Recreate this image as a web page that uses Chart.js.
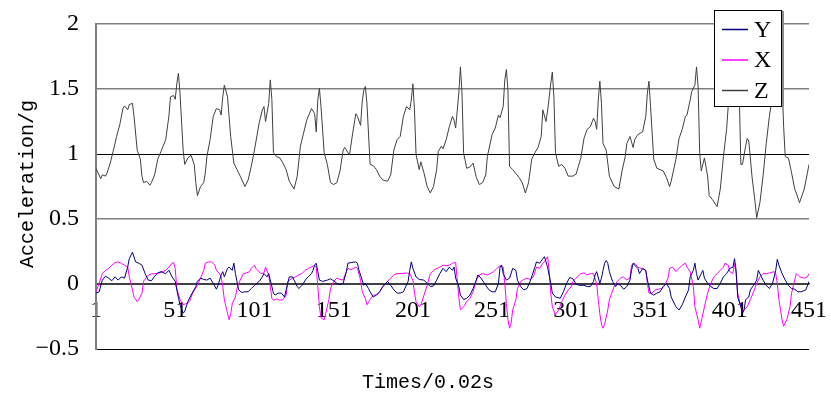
<!DOCTYPE html>
<html><head><meta charset="utf-8">
<script src="https://cdn.jsdelivr.net/npm/chart.js@4/dist/chart.umd.min.js"></script>
<style>html,body{margin:0;padding:0;background:#fff}#wrap{width:831px;height:396px}</style>
</head><body><div id="wrap"><canvas id="c" width="831" height="396"></canvas></div>
<script>
const timeTicks = [1, 51, 101, 151, 201, 251, 301, 351, 401, 451];
const accelTicks = [-0.5, 0, 0.5, 1, 1.5, 2];
const seriesNames = ['Y', 'X', 'Z'];
const xTitle = 'Times/0.02s';
const yTitle = 'Acceleration/g';

// Series Y (navy)
const yT = [1,3,5,7,9,11,13,15,17,19,21,22,24,26,28,30,32,34,36,38,40,42,45,47,49,51,52,54,56,57,59,61,64,65,67,69,71,73,75,77,78,80,81,82,84,85,87,88,89,91,93,95,97,99,101,104,106,107,109,110,111,113,114,116,118,120,121,123,125,126,128,129,131,134,135,137,138,139,140,141,142,144,147,149,151,153,155,157,159,160,162,165,166,167,169,170,171,173,174,176,178,180,182,185,187,189,191,193,195,198,199,200,201,203,205,208,210,212,214,216,218,220,222,224,226,227,228,230,231,233,235,237,239,241,242,244,247,249,251,253,255,256,257,258,260,262,264,266,267,269,271,273,275,278,279,281,283,284,286,288,289,291,294,296,298,300,302,304,306,309,311,313,315,316,317,319,320,321,322,323,324,325,327,329,330,332,334,336,338,339,340,341,343,344,346,348,349,351,353,355,357,359,361,363,364,367,369,371,373,375,376,378,379,380,381,383,384,385,387,389,391,393,395,397,399,401,403,404,405,406,408,409,410,411,413,414,416,418,419,421,422,424,426,428,430,431,432,434,436,438,440,442,444,446,449,451];
const yV = [-0.07,-0.06,0.03,0.06,0.045,0.025,0.055,0.03,0.055,0.045,0.13,0.195,0.245,0.17,0.16,0.145,0.08,0.03,0.025,0.06,0.085,0.095,0.08,0.105,0.055,0.02,-0.045,-0.16,-0.225,-0.21,-0.135,-0.085,-0.02,0.02,0.045,0.035,0.03,0.045,0.005,-0.04,-0.01,0.07,0.095,0.055,0.12,0.13,0.105,0.16,0.08,-0.045,-0.065,-0.06,-0.06,-0.035,-0.01,0.02,0.055,0.08,0.055,0.08,0.03,-0.07,-0.085,-0.07,-0.07,-0.10,-0.045,0.055,0.055,0.03,-0.02,-0.035,-0.01,0.045,0.055,0.08,0.105,0.145,0.16,0.095,0.03,0.02,0.03,0.04,0.025,0.005,-0.005,0.005,0.095,0.16,0.165,0.17,0.16,0.105,0.03,-0.01,0.005,-0.035,-0.06,-0.10,-0.085,-0.06,-0.02,0.02,-0.01,-0.045,-0.07,-0.07,-0.06,0.02,0.105,0.17,0.12,0.055,0.035,0.03,0.005,-0.02,-0.015,0.03,0.08,0.12,0.095,0.13,0.105,0.13,0.045,-0.02,-0.085,-0.12,-0.11,-0.085,-0.035,0.03,0.07,0.045,-0.01,-0.045,-0.06,-0.06,0.005,0.13,0.145,0.08,0.03,0.045,0.12,0.105,0.03,-0.02,-0.045,-0.035,0.02,0.13,0.17,0.16,0.195,0.21,0.13,0.005,-0.07,-0.10,-0.11,-0.06,0.005,0.05,0.04,0.0,-0.01,-0.01,-0.02,-0.02,0.02,0.07,0.095,0.005,0.045,0.105,0.16,0.18,0.16,0.095,0.02,-0.02,0.005,-0.01,-0.04,-0.02,0.03,0.105,0.16,0.145,0.12,0.08,0.12,0.105,0.03,-0.07,-0.085,-0.07,-0.06,-0.02,0.005,-0.035,-0.10,-0.175,-0.20,-0.16,-0.10,-0.045,0.055,0.105,0.16,0.08,0.03,0.08,0.105,0.045,0.005,-0.02,-0.035,-0.035,0.005,0.055,0.08,0.12,0.13,0.195,0.105,-0.10,-0.175,-0.225,-0.20,-0.12,-0.10,-0.045,-0.01,0.03,0.105,0.055,0.03,-0.01,-0.035,0.005,0.105,0.19,0.145,0.08,0.03,-0.01,-0.035,-0.04,-0.06,-0.06,-0.045,0.02];

// Series X (magenta)
const xT = [1,3,5,7,9,11,13,15,17,19,21,22,24,25,27,28,30,31,33,35,38,41,45,47,49,50,51,52,54,56,58,60,62,65,67,69,70,72,74,76,77,79,80,81,82,84,85,86,87,89,90,92,94,96,98,99,101,102,105,107,108,110,111,112,113,115,117,119,121,122,125,127,129,131,133,135,137,139,140,141,142,143,145,146,148,149,151,153,155,157,159,160,162,165,166,168,169,171,172,174,176,178,180,182,185,187,189,191,194,197,199,201,202,203,205,206,208,210,212,214,216,218,220,222,224,226,228,229,230,231,233,235,237,239,241,243,245,248,250,252,254,256,258,259,260,261,262,263,264,266,267,269,271,273,275,277,279,281,283,284,286,287,288,289,291,293,295,297,299,301,302,304,307,309,311,313,315,317,318,319,320,321,322,324,325,328,330,332,334,336,338,339,341,343,345,348,349,350,352,354,356,358,360,362,363,365,367,369,371,373,374,376,378,379,381,382,383,385,387,389,391,393,395,397,398,400,401,403,404,405,406,408,409,410,412,414,416,418,420,422,424,426,429,430,431,432,434,435,437,439,440,442,443,445,448,450,451];
const xV = [-0.06,0.005,0.08,0.105,0.12,0.145,0.165,0.17,0.16,0.145,0.13,0.055,-0.045,-0.10,-0.135,-0.12,-0.07,0.02,0.055,0.075,0.08,0.085,0.105,0.13,0.16,0.165,0.12,-0.035,-0.12,-0.16,-0.15,-0.135,-0.07,-0.01,0.045,0.105,0.16,0.17,0.17,0.145,0.105,0.08,0.055,-0.02,-0.12,-0.225,-0.275,-0.235,-0.15,-0.10,-0.035,0.03,0.08,0.085,0.095,0.12,0.145,0.12,0.08,0.085,0.13,0.07,-0.02,-0.11,-0.125,-0.115,-0.125,-0.12,-0.085,0.02,0.045,0.055,0.07,0.08,0.105,0.12,0.13,0.145,0.13,-0.02,-0.175,-0.26,-0.275,-0.225,-0.12,-0.035,0.02,0.045,0.035,0.03,0.095,0.12,0.11,0.13,0.12,0.03,-0.06,-0.11,-0.16,-0.12,-0.085,-0.085,-0.06,-0.02,0.02,0.045,0.07,0.08,0.08,0.085,0.08,0.03,-0.07,-0.135,-0.175,-0.16,-0.085,-0.01,0.08,0.105,0.12,0.13,0.145,0.14,0.145,0.16,0.165,0.03,-0.10,-0.20,-0.175,-0.135,-0.11,-0.06,0.03,0.07,0.08,0.07,0.08,0.095,0.12,0.14,0.13,0.005,-0.15,-0.275,-0.34,-0.30,-0.20,-0.12,-0.035,0.02,0.035,0.045,0.035,0.055,0.13,0.12,0.16,0.17,0.21,0.105,-0.07,-0.175,-0.235,-0.20,-0.135,-0.085,-0.045,-0.02,0.02,0.045,0.08,0.085,0.07,0.08,0.08,0.0,-0.12,-0.23,-0.31,-0.34,-0.31,-0.20,-0.12,-0.02,0.02,0.045,0.055,0.03,0.045,0.145,0.16,0.13,0.12,0.105,0.005,-0.07,-0.07,-0.045,-0.04,-0.035,-0.01,0.045,0.12,0.13,0.095,0.12,0.145,0.16,0.13,0.095,-0.02,-0.175,-0.275,-0.34,-0.29,-0.175,-0.07,0.005,0.055,0.08,0.105,0.13,0.16,0.145,0.095,0.08,0.16,0.08,-0.07,-0.175,-0.21,-0.20,-0.175,-0.12,-0.06,0.005,0.055,0.08,0.08,0.085,0.095,0.08,0.005,-0.12,-0.275,-0.325,-0.275,-0.175,-0.07,0.03,0.08,0.055,0.045,0.055,0.08];

// Series Z (grey)
const zT = [1,4,5,7,8,10,12,14,16,18,19,21,22,24,25,27,29,30,31,33,35,36,38,40,42,45,47,48,50,51,52,53,54,56,57,59,61,63,64,65,67,69,70,71,73,75,77,79,80,81,82,84,86,88,90,92,95,97,99,101,104,106,107,108,110,111,112,113,115,117,119,121,123,126,128,130,132,134,137,139,140,141,142,143,145,147,149,151,153,155,157,158,160,161,163,165,166,168,169,170,171,172,174,176,178,180,182,185,187,189,191,193,195,197,199,200,201,202,203,205,206,208,210,212,214,216,217,219,220,222,224,226,227,228,230,231,232,233,235,237,239,241,243,245,247,248,251,253,255,256,258,259,260,261,262,264,268,270,272,274,276,278,280,282,283,285,286,288,289,290,291,293,295,297,299,302,304,307,309,311,313,315,316,317,318,319,320,321,323,325,328,331,333,335,336,338,340,341,343,346,348,349,350,351,353,355,357,359,361,363,364,367,369,371,373,374,376,377,379,380,381,382,383,385,387,388,390,393,395,397,399,400,401,403,405,407,408,409,411,412,413,415,417,418,420,422,424,426,427,429,431,432,434,435,436,438,440,442,443,445,448,450,451];
const zV = [0.89,0.81,0.84,0.83,0.855,0.93,1.03,1.135,1.225,1.35,1.37,1.34,1.38,1.39,1.29,1.03,0.96,0.83,0.78,0.79,0.76,0.78,0.84,0.96,1.02,1.11,1.29,1.44,1.45,1.42,1.54,1.62,1.47,1.03,0.92,0.97,0.99,0.92,0.78,0.68,0.75,0.78,0.855,0.98,1.11,1.29,1.35,1.34,1.30,1.44,1.53,1.44,1.135,0.93,0.88,0.83,0.75,0.80,0.905,1.03,1.24,1.34,1.365,1.25,1.39,1.57,1.42,1.01,0.98,0.97,0.93,0.88,0.79,0.73,0.83,1.06,1.16,1.26,1.35,1.31,1.17,1.42,1.505,1.365,1.01,0.92,0.78,0.765,0.78,0.87,1.03,1.05,1.01,0.995,1.16,1.31,1.29,1.22,1.40,1.49,1.52,1.39,0.92,0.91,0.88,0.83,0.80,0.79,0.84,1.03,1.11,1.135,1.29,1.365,1.34,1.415,1.54,1.34,0.995,0.88,0.94,0.855,0.75,0.70,0.75,0.88,1.02,1.06,1.04,1.11,1.21,1.29,1.26,1.20,1.47,1.67,1.47,1.01,0.89,0.90,0.93,0.82,0.765,0.78,0.84,0.98,1.15,1.20,1.30,1.28,1.365,1.57,1.65,1.49,0.905,0.88,0.82,0.78,0.70,0.78,0.96,1.01,1.05,1.135,1.34,1.25,1.33,1.54,1.63,1.44,1.01,0.905,0.92,0.89,0.83,0.83,0.845,0.97,1.12,1.19,1.21,1.275,1.25,1.19,1.415,1.56,1.39,1.08,1.03,0.83,0.75,0.73,0.87,0.98,1.08,1.135,1.05,1.11,1.15,1.17,1.29,1.47,1.56,1.365,0.96,0.89,0.88,0.87,0.82,0.75,0.79,0.96,1.12,1.19,1.29,1.30,1.415,1.48,1.53,1.67,1.52,1.01,0.87,0.97,0.83,0.68,0.65,0.595,0.73,0.98,1.19,1.365,1.45,1.6,1.55,1.45,0.92,0.92,1.06,1.12,1.10,0.83,0.625,0.51,0.625,0.83,1.08,1.29,1.37,1.5,1.62,1.68,1.55,1.21,0.98,0.97,0.855,0.73,0.70,0.625,0.73,0.855,0.92];

const seriesColors = ['#000080', '#ff00ff', '#404040'];
const toPts = (t, v) => t.map((x, i) => ({ x: x, y: v[i] }));

const SERIF = '"Liberation Serif", "DejaVu Serif", serif';
const MONO = '"Liberation Mono", "DejaVu Sans Mono", monospace';

const decorPlugin = {
  id: 'decor',
  afterDraw(chart) {
    const ctx = chart.ctx;
    const a = chart.chartArea;
    ctx.save();
    // axis titles
    ctx.fillStyle = '#000';
    ctx.font = '20px ' + MONO;
    ctx.textAlign = 'center';
    ctx.textBaseline = 'middle';
    ctx.fillText(xTitle, 428, 383);
    ctx.save();
    ctx.translate(28, 184);
    ctx.rotate(-Math.PI / 2);
    ctx.fillText(yTitle, 0, 0);
    ctx.restore();
    // legend box
    const x0 = a.right - 95, y0 = 10, w = 67, h = 96;
    ctx.fillStyle = '#8c8c8c';
    ctx.fillRect(x0 + w + 1, y0 + 1, 2, h);
    ctx.fillStyle = '#fff';
    ctx.fillRect(x0, y0, w, h);
    ctx.strokeStyle = '#000';
    ctx.lineWidth = 1;
    ctx.strokeRect(x0 + 0.5, y0 + 0.5, w, h);
    chart.data.datasets.forEach((ds, k) => {
      const yy = y0 + 19.5 + k * 30.5;
      ctx.strokeStyle = ds.borderColor;
      ctx.lineWidth = 1.5;
      ctx.beginPath();
      ctx.moveTo(x0 + 8, yy);
      ctx.lineTo(x0 + 34, yy);
      ctx.stroke();
      ctx.fillStyle = '#000';
      ctx.font = '24px ' + SERIF;
      ctx.textAlign = 'left';
      ctx.fillText(ds.label, x0 + 40, yy + 1);
    });
    ctx.restore();
  }
};

new Chart(document.getElementById('c'), {
  type: 'line',
  data: {
    datasets: [
      { label: seriesNames[0], data: toPts(yT, yV), borderColor: seriesColors[0] },
      { label: seriesNames[1], data: toPts(xT, xV), borderColor: seriesColors[1] },
      { label: seriesNames[2], data: toPts(zT, zV), borderColor: seriesColors[2] }
    ]
  },
  options: {
    responsive: false,
    animation: false,
    devicePixelRatio: 1,
    elements: {
      line: { borderWidth: 1, tension: 0, fill: false },
      point: { radius: 0, hoverRadius: 0 }
    },
    layout: { padding: { left: 0, right: 22, top: 24, bottom: 47 } },
    plugins: { legend: { display: false }, tooltip: { enabled: false }, title: { display: false } },
    scales: {
      x: {
        type: 'linear',
        position: { y: 0 },
        min: 1, max: 451,
        afterBuildTicks: (s) => { s.ticks = timeTicks.map(v => ({ value: v })); },
        afterFit: (s) => { s.paddingLeft = 0; s.paddingRight = 0; s.paddingTop = 0; s.paddingBottom = 0; },
        grid: { display: false, drawTicks: false },
        border: { display: true, color: '#404040', width: 1.5 },
        ticks: {
          autoSkip: false, maxRotation: 0, padding: 12, color: '#000',
          font: { family: SERIF, size: 24 },
          callback: (v) => String(v)
        }
      },
      y: {
        type: 'linear',
        min: -0.5, max: 2,
        afterBuildTicks: (s) => { s.ticks = accelTicks.map(v => ({ value: v })); },
        afterFit: (s) => { s.width = 96; s.paddingTop = 0; s.paddingBottom = 0; s.paddingLeft = 0; s.paddingRight = 0; },
        grid: {
          drawTicks: false,
          color: (c) => { const v = c.tick ? c.tick.value : null; return (v === 1 || v === -0.5) ? '#000' : (v === 0 ? '#404040' : '#808080'); },
          lineWidth: (c) => { const v = c.tick ? c.tick.value : null; return (v === 1 || v === -0.5 || v === 0) ? 1 : 1.5; }
        },
        border: { display: true, color: '#808080', width: 2 },
        ticks: {
          padding: 17, color: '#000',
          font: { family: SERIF, size: 24 },
          callback: (v) => (v < 0 ? '\u2212' + String(-v) : String(v))
        }
      }
    }
  },
  plugins: [decorPlugin]
});
</script>
</body></html>
